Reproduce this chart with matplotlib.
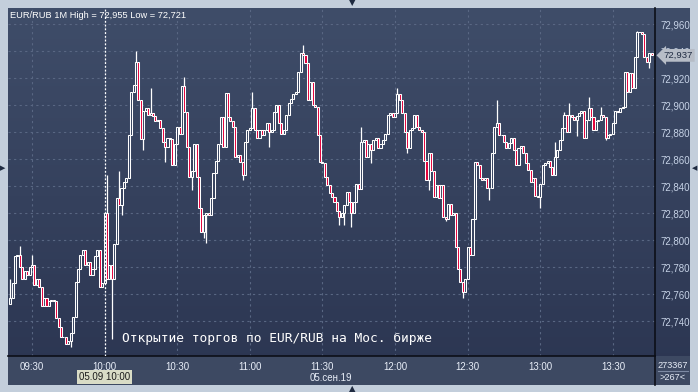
#!/usr/bin/env python3
"""
EUR/RUB 1-minute candles, 05.09.2019 - terminal style chart.
"""

import numpy as np
import matplotlib
matplotlib.use("Agg")
import matplotlib.pyplot as plt
import matplotlib.transforms as mtransforms
from matplotlib.colors import LinearSegmentedColormap
from matplotlib.ticker import FixedLocator, FuncFormatter

# data (1M candles starting 09:21, minutes from 09:30)
start_minute = -9
first_open = 72.753
closes = [
    72.757, 72.768, 72.788, 72.789, 72.780, 72.771, 72.777, 72.774, 72.780, 72.782,
    72.767, 72.771, 72.765, 72.751, 72.757, 72.751, 72.755, 72.756, 72.755, 72.742,
    72.736, 72.728, 72.728, 72.723, 72.725, 72.731, 72.743, 72.769, 72.779, 72.789,
    72.793, 72.782, 72.784, 72.774, 72.779, 72.788, 72.793, 72.765, 72.768, 72.820,
    72.771, 72.782, 72.771, 72.797, 72.831,
    72.826, 72.839, 72.843, 72.846, 72.878, 72.910, 72.915, 72.932, 72.904, 72.875,
    72.896, 72.898, 72.893, 72.894, 72.892, 72.888, 72.889, 72.883, 72.873, 72.869,
    72.876, 72.875, 72.856, 72.871, 72.884, 72.879, 72.914, 72.895, 72.869, 72.847,
    72.851, 72.871, 72.847, 72.824, 72.806, 72.819, 72.820, 72.819, 72.831, 72.850,
    72.859, 72.871, 72.891, 72.869, 72.909, 72.891, 72.888, 72.884, 72.862, 72.863,
    72.858, 72.848, 72.873, 72.882, 72.883, 72.898, 72.882, 72.876, 72.882, 72.878,
    72.882, 72.887, 72.880, 72.882, 72.895, 72.900, 72.887, 72.879, 72.882, 72.893,
    72.902, 72.905, 72.908, 72.910, 72.925, 72.939, 72.937, 72.931, 72.904, 72.917,
    72.900, 72.899, 72.878, 72.858, 72.857,
    72.847, 72.841, 72.835, 72.832, 72.828, 72.822, 72.817, 72.820, 72.826, 72.836,
    72.828, 72.820, 72.828, 72.842, 72.838, 72.873, 72.874, 72.862, 72.871, 72.867,
    72.874, 72.876, 72.868, 72.871, 72.874, 72.879, 72.893, 72.894, 72.891, 72.894,
    72.908, 72.904, 72.894, 72.880, 72.868, 72.882, 72.883, 72.893, 72.884, 72.882,
    72.880, 72.859, 72.845, 72.865, 72.851,
    72.832, 72.841, 72.831, 72.841, 72.817, 72.816, 72.827, 72.819, 72.820, 72.795,
    72.779, 72.769, 72.762, 72.771, 72.795, 72.789, 72.816, 72.858, 72.856, 72.846,
    72.845, 72.846, 72.839, 72.839, 72.865, 72.884, 72.887, 72.878, 72.878, 72.873,
    72.868, 72.872, 72.876, 72.867, 72.856, 72.868, 72.870, 72.865, 72.857, 72.852,
    72.843, 72.846, 72.833, 72.832, 72.842, 72.856,
    72.857, 72.859, 72.854, 72.848, 72.862, 72.867, 72.874, 72.883, 72.893, 72.880,
    72.893, 72.891, 72.889, 72.892, 72.894, 72.896, 72.876, 72.889, 72.898, 72.891,
    72.882, 72.888, 72.889, 72.893, 72.891, 72.876, 72.878, 72.879, 72.887, 72.896,
    72.895, 72.898, 72.899, 72.925, 72.910, 72.924, 72.913, 72.936, 72.954, 72.954,
    72.953, 72.936, 72.932, 72.939, 72.937,
]
# visible wicks (candle index -> price)
wick_highs = {0: 72.771, 4: 72.796, 9: 72.789, 40: 72.848, 45: 72.851, 52: 72.940,
              58: 72.913, 72: 72.921, 100: 72.910, 121: 72.945, 145: 72.884,
              160: 72.913, 201: 72.904, 225: 72.873, 229: 72.895, 231: 72.902,
              239: 72.906, 244: 72.899, 259: 72.955}
wick_lows = {25: 72.721, 42: 72.727, 46: 72.819, 55: 72.867, 64: 72.858, 75: 72.837,
             80: 72.802, 81: 72.798, 96: 72.845, 107: 72.869, 136: 72.811,
             138: 72.811, 141: 72.810, 149: 72.857, 164: 72.865, 173: 72.837,
             180: 72.814, 187: 72.757, 198: 72.830, 219: 72.824, 234: 72.877,
             246: 72.874, 264: 72.928}

x_ticks = [0, 30, 60, 90, 120, 150, 180, 210, 240]
x_labels = ["09:30", "10:00", "10:30", "11:00", "11:30", "12:00", "12:30", "13:00", "13:30"]
y_ticks = [72.74, 72.76, 72.78, 72.80, 72.82, 72.84, 72.86, 72.88, 72.90, 72.92, 72.94, 72.96]
title = "EUR/RUB 1M High = 72,955 Low = 72,721"
note = "Открытие торгов по EUR/RUB на Мос. бирже"
open_minute = 30

# derived OHLC
closes = np.array(closes)
opens = np.concatenate([[first_open], closes[:-1]])
highs = np.maximum(opens, closes)
lows = np.minimum(opens, closes)
for i, v in wick_highs.items():
    highs[i] = v
for i, v in wick_lows.items():
    lows[i] = v
t = np.arange(len(closes)) + start_minute

plt.rcParams["font.family"] = ["Liberation Sans", "DejaVu Sans"]

W, H = 698, 392
fig = plt.figure(figsize=(W / 100, H / 100), dpi=100, facecolor="#c3cedb")


def px_axes(x0, y0, x1, y1):
    return fig.add_axes([x0 / W, 1 - y1 / H, (x1 - x0) / W, (y1 - y0) / H])


bg_cmap = LinearSegmentedColormap.from_list("bg", ["#3f4d69", "#2b3551"])

# whole dark panel with gradient
panel = px_axes(8, 8, 690, 385)
panel.imshow(np.linspace(0, 1, 256).reshape(-1, 1), cmap=bg_cmap, aspect="auto",
             extent=[0, 1, 0, 1])
panel.axis("off")

# bottom strip for time labels
strip = px_axes(8, 356, 690, 385)
strip.set_facecolor("#3d4962")
strip.set_xticks([])
strip.set_yticks([])
for s in strip.spines.values():
    s.set_visible(False)

ax = px_axes(8, 8, 655, 356)
ax.patch.set_alpha(0)
ax.set_xlim(-9.9, 257.4)
ax.set_ylim(72.7142, 72.9721)

grid_col = "#596783"
for xv in x_ticks:
    ax.axvline(xv, color=grid_col, lw=0.8, ls=(0, (2, 3)), zorder=1)
for yv in y_ticks:
    ax.axhline(yv, color=grid_col, lw=0.8, ls=(0, (2, 3)), zorder=1)

# candles
up = closes >= opens
ax.vlines(t, lows, highs, color="white", lw=0.9, zorder=2)
ax.bar(t[up], closes[up] - opens[up], bottom=opens[up], width=0.85,
       facecolor="#36425e", edgecolor="white", linewidth=0.75, zorder=3)
ax.bar(t[~up], opens[~up] - closes[~up], bottom=closes[~up], width=0.85,
       facecolor="#e3003a", edgecolor="white", linewidth=0.75, zorder=3)

# trading open marker
ax.axvline(open_minute, color="white", lw=0.9, ls=(0, (1.5, 1.5)), zorder=4)

ax.xaxis.set_major_locator(FixedLocator(x_ticks))
ax.set_xticklabels(x_labels)
ax.yaxis.tick_right()
ax.yaxis.set_major_locator(FixedLocator(y_ticks))
ax.yaxis.set_major_formatter(FuncFormatter(lambda v, p: f"{v:.3f}".replace(".", ",")))
ax.tick_params(axis="x", length=0, pad=4, labelsize=7, labelcolor="#e8eef8")
ax.tick_params(axis="y", length=0, pad=4, labelsize=7, labelcolor="#c6d2e6")
for s in ["top", "left"]:
    ax.spines[s].set_visible(False)
ax.spines["right"].set_color("#0c0f18")
ax.spines["bottom"].set_color("#0c0f18")
ax.spines["right"].set_linewidth(1.2)
ax.spines["bottom"].set_linewidth(1.2)

ax.text(0.003, 0.99, title, transform=ax.transAxes, ha="left", va="top",
        color="white", fontsize=6.7)
ax.text(37.2, 72.7275, note, ha="left", va="center", color="white",
        fontsize=9.3, family="DejaVu Sans Mono", zorder=5)

# last price tag
blend = mtransforms.blended_transform_factory(ax.transAxes, ax.transData)
ax.text(1.013, closes[-1], f"{closes[-1]:.3f}".replace(".", ","), transform=blend,
        ha="left", va="center", fontsize=6.8, color="#1f2b42", zorder=6,
        bbox=dict(boxstyle="larrow,pad=0.2", fc="#b7bdc7", ec="none"))

# date labels in the bottom strip
blend_x = mtransforms.blended_transform_factory(ax.transData, fig.transFigure)
ax.text(open_minute, 1 - 377 / H, "05.09 10:00", transform=blend_x, ha="center",
        va="center", fontsize=7, color="#1b1b1b",
        bbox=dict(boxstyle="square,pad=0.2", fc="#d9dcc6", ec="none"))
ax.text(123.5, 1 - 378 / H, "05.сен.19", transform=blend_x, ha="center",
        va="center", fontsize=7, color="#e8eef8")

fig.text(673 / W, 1 - 365 / H, "273367", ha="center", va="center", fontsize=6.6,
         color="#e8eef8")
fig.text(673 / W, 1 - 378 / H, ">267<", ha="center", va="center", fontsize=6.6,
         color="#e8eef8")
fig.add_artist(plt.Line2D([658 / W, 688 / W], [1 - 371 / H, 1 - 371 / H],
                          color="#7d8aa3", lw=0.8))
fig.add_artist(plt.Line2D([655 / W, 655 / W], [1 - 385 / H, 1 - 356 / H],
                          color="#0c0f18", lw=1.2))

# scroll arrows on the frame
arrow_col = "#1e2a40"
fig.text(352 / W, 1 - 3 / H, "▼", ha="center", va="center", fontsize=6,
         color=arrow_col, family="DejaVu Sans")
fig.text(352 / W, 1 - 389 / H, "▲", ha="center", va="center", fontsize=6,
         color=arrow_col, family="DejaVu Sans")
fig.text(3 / W, 1 - 168 / H, "▶", ha="center", va="center", fontsize=5,
         color=arrow_col, family="DejaVu Sans")
fig.text(695 / W, 1 - 168 / H, "◀", ha="center", va="center", fontsize=5,
         color=arrow_col, family="DejaVu Sans")

fig.savefig("out.png", dpi=100, facecolor=fig.get_facecolor())
